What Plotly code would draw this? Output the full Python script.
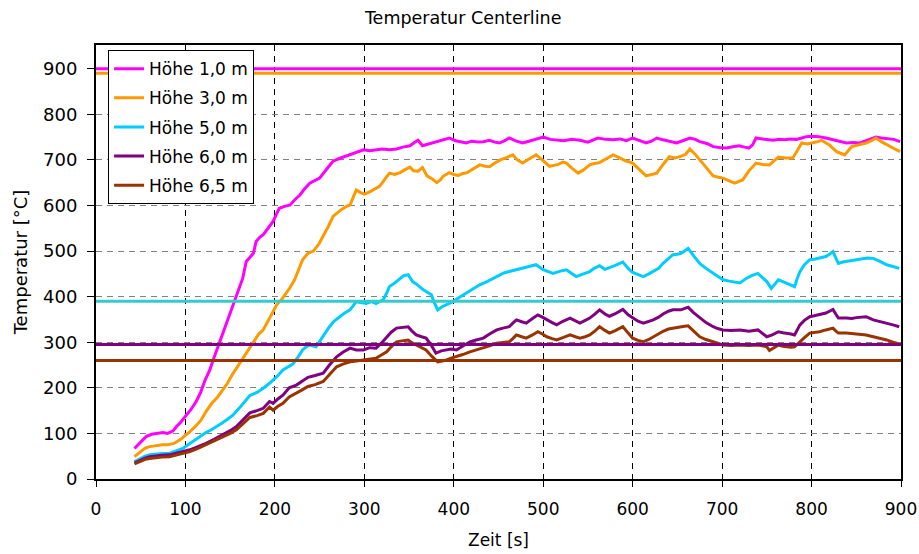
import plotly.graph_objects as go

# ---------------- data ----------------
t_h10 = [43,50,56,62,68,75,80,86,90,95,101,106,112,117,122,127,131,136,140,145,150,155,159,164,168,172,176,179,183,187,192,198,202,205,211,217,222,228,233,239,245,250,258,265,272,278,284,291,299,306,313,320,328,336,343,351,356,360,365,370,377,384,390,395,402,408,414,420,427,433,440,446,451,457,462,470,477,484,492,500,508,515,523,532,541,550,556,561,570,578,586,593,600,608,615,621,627,634,641,649,656,664,670,675,683,690,697,705,712,719,725,730,734,738,745,751,757,764,770,776,783,789,794,801,808,816,824,831,839,847,854,861,867,872,878,885,892,899]
v_h10 = [67,80,93,98,100,102,100,105,115,125,140,152,170,190,217,238,261,288,312,338,364,390,415,440,477,486,495,521,530,536,550,565,582,594,598,601,612,623,636,649,655,660,680,697,703,707,711,716,722,720,722,724,722,724,728,731,738,743,731,734,738,743,745,748,742,740,737,741,739,740,743,739,737,742,748,741,737,741,746,750,745,744,742,745,743,739,744,748,745,744,746,742,748,742,737,741,748,744,740,737,742,748,745,740,736,729,727,726,729,731,728,726,733,748,746,744,743,745,744,746,745,748,751,752,751,748,744,741,737,738,737,742,746,750,748,746,745,740]

t_h30 = [43,50,55,60,67,74,80,87,94,100,105,111,117,123,129,136,142,147,152,157,162,167,172,177,182,187,192,197,202,208,213,217,222,227,231,237,243,249,254,260,265,270,275,280,284,288,291,296,300,306,311,317,322,328,334,340,345,351,355,360,365,370,376,381,385,388,395,400,405,410,415,422,429,435,440,446,452,459,466,471,477,484,492,499,507,512,517,522,526,532,539,545,552,557,563,570,578,585,592,600,607,615,621,627,634,641,647,653,659,664,670,675,682,690,696,701,708,714,719,723,730,738,745,753,758,763,771,779,784,789,795,802,807,811,816,820,824,828,833,837,841,845,853,861,867,872,878,884,891,899]
v_h30 = [49,60,68,71,73,75,75,78,86,95,104,115,128,148,165,180,195,210,228,243,260,275,290,305,318,327,345,365,382,395,408,420,437,460,481,495,500,515,532,555,576,585,592,598,601,620,634,628,625,630,636,642,655,671,668,672,678,684,676,675,683,665,658,650,656,664,672,668,666,670,672,680,689,686,685,693,700,705,711,700,693,702,711,700,686,688,690,695,693,682,671,678,689,692,694,702,711,705,698,693,680,665,668,671,690,707,704,707,712,724,712,700,684,665,662,660,654,649,653,656,676,693,690,689,698,706,704,704,720,737,735,737,740,743,738,733,725,718,714,711,720,729,733,737,742,748,740,733,726,718]

t_h50 = [43,50,55,60,67,74,82,90,97,105,111,116,122,129,135,141,147,153,160,166,172,180,187,194,198,204,209,216,220,226,231,235,239,246,251,256,261,266,272,278,284,288,291,296,302,308,313,318,321,325,328,334,340,344,349,354,358,362,366,370,375,378,382,387,392,396,399,406,414,421,429,436,444,450,456,462,470,477,485,492,500,505,511,519,526,531,537,545,552,557,563,569,574,580,589,595,600,606,612,618,623,629,634,640,645,650,654,658,662,668,675,682,690,695,701,708,714,720,727,733,740,745,750,755,760,763,768,772,777,781,784,787,792,798,803,809,816,820,824,827,830,835,839,845,850,857,863,869,876,884,891,898]
v_h50 = [38,46,50,53,55,56,56,62,67,78,86,93,101,108,115,123,131,140,155,168,183,190,199,210,217,228,239,248,252,268,283,290,294,290,305,318,334,346,356,364,371,380,389,387,385,389,385,390,393,408,422,430,440,446,448,433,428,421,415,410,404,388,371,378,382,386,389,398,408,416,426,432,440,447,452,455,459,462,466,470,459,455,451,456,459,452,444,450,455,462,468,460,463,468,476,462,453,448,444,450,455,462,473,484,492,493,495,500,506,490,473,462,451,444,437,434,432,430,440,446,451,441,433,418,430,437,433,430,425,422,440,455,470,481,482,484,488,493,499,485,473,476,477,479,481,483,485,484,478,470,466,462]

t_h60 = [43,50,55,60,67,74,82,90,97,105,114,123,132,142,150,157,165,172,180,187,194,198,203,209,216,224,230,237,245,254,261,269,276,284,291,299,306,313,319,325,330,336,342,349,353,358,364,369,375,380,386,392,397,403,410,418,425,433,440,448,455,462,466,470,476,481,488,494,499,504,510,515,522,530,536,541,547,552,558,563,569,574,580,589,595,600,606,612,618,623,629,634,640,645,654,658,662,668,675,682,690,695,701,710,720,730,740,745,750,756,763,768,772,777,781,784,787,792,798,803,809,816,820,824,827,830,839,845,850,856,861,869,876,884,891,898]
v_h60 = [35,42,46,49,51,52,53,57,60,64,71,78,87,97,106,115,130,145,150,155,170,166,175,184,200,206,214,223,227,232,250,268,278,287,283,283,288,287,298,312,322,331,333,334,325,316,312,309,293,276,281,283,285,283,292,301,305,309,318,327,331,334,342,349,345,342,352,360,355,349,343,338,346,353,347,342,348,353,362,371,362,357,362,372,360,353,346,342,346,349,355,362,368,371,371,374,377,365,353,343,334,330,327,326,327,324,327,320,312,316,323,321,320,318,316,328,338,348,356,358,360,364,368,372,362,353,353,352,354,355,356,349,346,342,338,334]

t_h65 = [43,50,55,60,67,74,82,90,97,105,114,123,132,142,150,157,165,172,180,187,194,198,203,209,216,224,230,237,245,254,261,269,276,284,291,299,306,313,319,325,330,336,342,349,353,358,364,369,375,382,387,392,397,403,410,418,425,433,440,448,455,462,466,470,476,481,488,494,499,504,510,515,522,530,536,541,547,552,558,563,569,574,580,589,595,600,606,612,618,623,629,634,640,645,654,658,662,668,675,682,690,695,701,710,720,730,740,745,750,753,758,763,768,772,777,781,784,787,792,798,803,809,816,820,824,827,830,839,845,850,856,861,869,876,884,891,898]
v_h65 = [33,39,43,45,47,48,49,53,56,60,67,75,84,93,100,108,122,135,139,144,158,151,159,166,180,188,195,203,207,214,230,246,252,257,259,261,263,265,272,279,290,301,303,305,299,294,288,283,270,257,259,261,265,268,273,279,283,287,292,298,300,301,308,316,312,309,316,323,318,312,308,305,310,316,312,309,312,316,325,334,326,320,325,334,320,309,304,301,306,312,318,324,329,331,334,335,336,324,312,306,301,297,294,293,294,293,294,292,290,282,288,294,291,290,289,290,296,301,310,320,321,323,327,329,331,325,320,320,318,318,317,316,312,309,305,300,296]

series_names = ["Höhe 1,0 m", "Höhe 3,0 m", "Höhe 5,0 m", "Höhe 6,0 m", "Höhe 6,5 m"]
series_t = [t_h10, t_h30, t_h50, t_h60, t_h65]
series_v = [v_h10, v_h30, v_h50, v_h60, v_h65]
series_colors = ["#FF00FF", "#FF9900", "#00CCFF", "#800080", "#993300"]

# constant reference levels (one per height)
limit_values = [900, 890, 390, 295, 260]
limit_colors = ["#FF00FF", "#FF9900", "#33CCCC", "#800080", "#993300"]
limit_span = [0, 900]

x_ticks = [0, 100, 200, 300, 400, 500, 600, 700, 800, 900]
y_ticks = [0, 100, 200, 300, 400, 500, 600, 700, 800, 900]

FONT = "DejaVu Sans"

fig = go.Figure()
for i, (name, tt, vv, col) in enumerate(zip(series_names, series_t, series_v, series_colors)):
    fig.add_trace(go.Scatter(x=tt, y=vv, mode="lines", name=name,
                             line=dict(color=col, width=3),
                             legendgroup=f"g{i}"))
for lv, col in zip(limit_values, limit_colors):
    fig.add_trace(go.Scatter(x=limit_span, y=[lv, lv], mode="lines",
                             line=dict(color=col, width=3),
                             showlegend=False, hoverinfo="skip"))

fig.update_layout(
    width=919, height=554,
    margin=dict(l=96, r=18, t=45, b=75, autoexpand=False),
    paper_bgcolor="white", plot_bgcolor="white",
    font=dict(family=FONT, color="black", size=17),
    title=dict(text="Temperatur Centerline", x=0.504, xanchor="center",
               y=1 - 18 / 554, yanchor="middle", yref="container",
               font=dict(family=FONT, size=17.5, color="black")),
    showlegend=True,
    legend=dict(x=0.015, y=0.988, xanchor="left", yanchor="top",
                bgcolor="white", bordercolor="black", borderwidth=1,
                font=dict(family=FONT, size=17, color="black"),
                traceorder="grouped", tracegroupgap=4, itemwidth=30),
)
fig.update_xaxes(
    range=[0, 900], tickvals=x_ticks, ticktext=[str(v) for v in x_ticks],
    automargin=False,
    showline=True, linecolor="black", linewidth=2, mirror=True,
    ticks="outside", ticklen=6, tickcolor="black", tickwidth=1,
    ticklabelstandoff=8,
    tickfont=dict(family=FONT, size=17),
    showgrid=True, gridcolor="black", gridwidth=1, griddash="6px,5px",
    zeroline=False,
    title=dict(text="Zeit [s]", font=dict(family=FONT, size=17), standoff=16),
)
fig.update_yaxes(
    range=[0, 952], tickvals=y_ticks, ticktext=[str(v) for v in y_ticks],
    automargin=False,
    showline=True, linecolor="black", linewidth=2, mirror=True,
    ticks="outside", ticklen=7, tickcolor="black", tickwidth=1,
    ticklabelstandoff=6,
    tickfont=dict(family=FONT, size=18),
    showgrid=True, gridcolor="#808080", gridwidth=1, griddash="6px,5px",
    zeroline=False,
    title=dict(text="Temperatur [°C]", font=dict(family=FONT, size=18), standoff=11),
)

fig.write_html("out.html")
